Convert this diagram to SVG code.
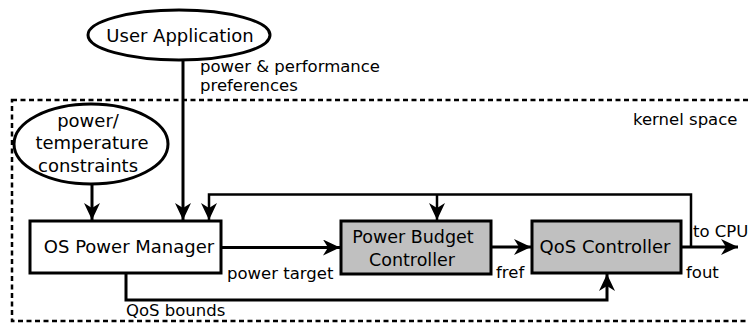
<svg xmlns="http://www.w3.org/2000/svg" width="749" height="324" viewBox="0 0 749 324">
<style>
text{font-family:"DejaVu Sans","Liberation Sans",sans-serif;fill:#000}
.n{font-size:18px;text-anchor:middle}
.l{font-size:16.5px}
.box{fill:#fff;stroke:#000;stroke-width:3}
.g{fill:#c0c0c0;stroke:#000;stroke-width:3}
.w{fill:none;stroke:#000;stroke-width:3}
.fb{fill:none;stroke:#000;stroke-width:2.5}
</style>
<defs>
<marker id="ah" markerUnits="userSpaceOnUse" markerWidth="18" markerHeight="18" viewBox="0 0 18 18" refX="17" refY="8" orient="auto">
<path d="M17,8 L0,0 L5,8 L0,16 Z" fill="#000"/>
</marker>
</defs>
<rect x="12" y="100" width="745" height="221" fill="none" stroke="#000" stroke-width="2.5" stroke-dasharray="5,3.5"/>
<text class="l" x="633" y="125">kernel space</text>
<g id="user-app">
<ellipse cx="179" cy="35" rx="91" ry="25" class="box"/>
<text class="n" x="180" y="42">User Application</text>
</g>
<g id="constraints">
<ellipse cx="91" cy="144" rx="77" ry="40" class="box"/>
<text class="n" x="88" y="127">power/</text>
<text class="n" x="92" y="149">temperature</text>
<text class="n" x="88" y="172">constraints</text>
</g>
<g id="os-pm">
<rect x="30" y="221" width="191" height="52" class="box"/>
<text class="n" x="129" y="253">OS Power Manager</text>
</g>
<g id="pbc">
<rect x="341" y="221" width="150" height="53" class="g"/>
<text class="n" x="413" y="243" style="font-size:17.5px">Power Budget</text>
<text class="n" x="412" y="266" style="font-size:17.5px">Controller</text>
</g>
<g id="qos">
<rect x="532" y="221" width="149" height="52" class="g"/>
<text class="n" x="605" y="253">QoS Controller</text>
</g>
<g id="connectors">
<path d="M183,60 V220" class="w" marker-end="url(#ah)"/>
<path d="M92,184 V220" class="w" marker-end="url(#ah)"/>
<path d="M691,247 V194.5 H209 V220" class="fb" marker-end="url(#ah)"/>
<path d="M437,194.5 V220" class="fb" marker-end="url(#ah)"/>
<path d="M221,247.5 H340" class="w" marker-end="url(#ah)"/>
<path d="M491,247 H531" class="w" marker-end="url(#ah)"/>
<path d="M681,247 H738" class="w" marker-end="url(#ah)"/>
<path d="M126,273 V300 H607 V274" class="w" marker-end="url(#ah)"/>
<text class="l" x="200" y="72">power &amp; performance</text>
<text class="l" x="200" y="91">preferences</text>
<text class="l" x="227" y="279">power target</text>
<text class="l" x="496" y="278">fref</text>
<text class="l" x="693" y="237">to CPU</text>
<text class="l" x="686" y="278">fout</text>
<text class="l" x="126" y="316">QoS bounds</text>
</g>
</svg>
